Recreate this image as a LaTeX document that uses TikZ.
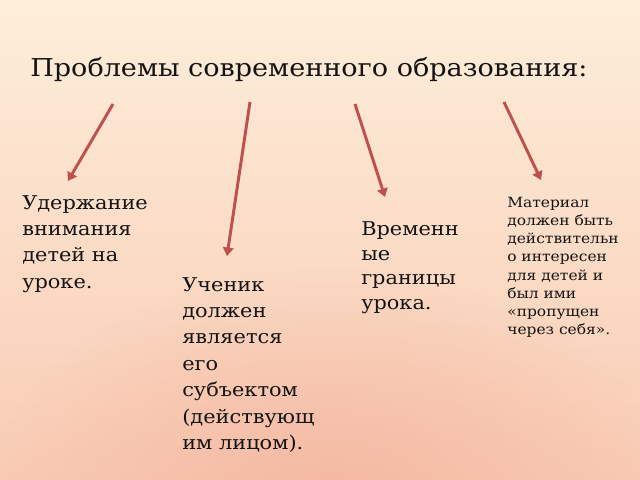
\documentclass[tikz,border=0pt]{standalone}
\usepackage{fontspec}
\setmainfont{DejaVu Serif}[FakeStretch=1.1]
\usetikzlibrary{arrows.meta, fadings}
\definecolor{bgtop}{RGB}{253,238,218}
\definecolor{bgmid}{RGB}{251,218,196}
\definecolor{bgbot}{RGB}{249,203,180}
\definecolor{bgpink}{RGB}{242,176,154}
\definecolor{arrred}{RGB}{192,80,77}
\definecolor{txt}{RGB}{20,20,20}
\tikzfading[name=softglow, inner color=transparent!0, outer color=transparent!100]

\begin{document}
\begin{tikzpicture}[x=0.025cm, y=-0.025cm,
  arr/.style={arrred, line width=2.1pt, -{Triangle[length=6pt, width=7.5pt]}},
  item/.style={anchor=north west, inner sep=0pt, align=left, text=txt, font=\fontsize{13.5pt}{18.8pt}\selectfont}]
\useasboundingbox (0,0) rectangle (640,480);
\begin{scope}
\clip (0,0) rectangle (640,480);
\shade[top color=bgtop, middle color=bgmid, bottom color=bgbot] (0,0) rectangle (640,480);
\fill[bgpink, opacity=0.7, path fading=softglow] (330,500) ellipse (340 and 230);
\end{scope}

\node[anchor=base west, inner sep=0pt, text=txt, font=\fontsize{17.5pt}{20pt}\selectfont] (title) at (30,76) {Проблемы современного образования:};

\coordinate (s1) at (113,104); \coordinate (e1) at (68,181);
\coordinate (s2) at (250,102); \coordinate (e2) at (227,256);
\coordinate (s3) at (355,104); \coordinate (e3) at (385,197);
\coordinate (s4) at (504,102); \coordinate (e4) at (541,180);
\draw[arr] (s1) -- (e1);
\draw[arr] (s2) -- (e2);
\draw[arr] (s3) -- (e3);
\draw[arr] (s4) -- (e4);

\node[item] (attention) at (22,195) {Удержание\\внимания\\детей на\\уроке.};
\node[item] (pupil) at (182,277) {Ученик\\должен\\является\\его\\субъектом\\(действующ\\им лицом).};
\node[item, font=\fontsize{13.5pt}{17.7pt}\selectfont] (time) at (361,221) {Временн\\ые\\границы\\урока.};
\node[item, font=\fontsize{10pt}{13pt}\selectfont] (material) at (507,196.5) {Материал\\должен быть\\действительн\\о интересен\\для детей и\\был ими\\«пропущен\\через себя».};
\end{tikzpicture}
\end{document}
